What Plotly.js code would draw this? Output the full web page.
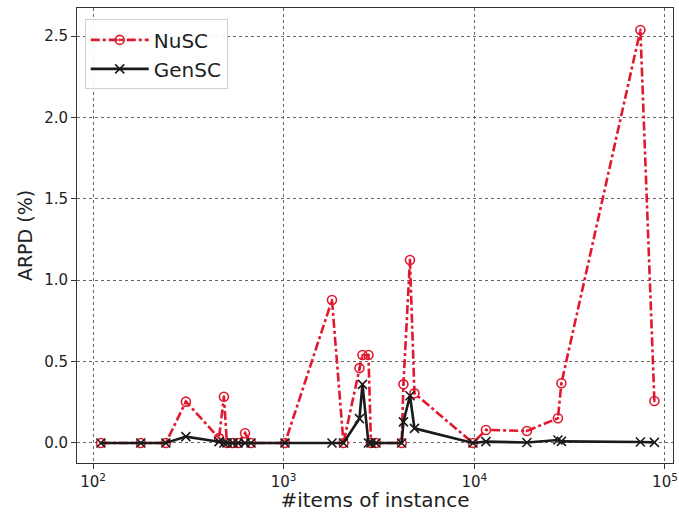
<!DOCTYPE html>
<html>
<head>
<meta charset="utf-8">
<script src="https://cdn.plot.ly/plotly-3.0.1.min.js"></script>
<style>html,body{margin:0;padding:0;background:#fff;}#chart{width:679px;height:512px;}</style>
</head>
<body>
<div id="chart"></div>
<script>
// Instance sizes (#items)
const items = [110, 178, 241, 307, 458, 486, 504, 542, 576, 627, 674, 1016, 1792, 2059, 2497, 2590, 2784, 2870, 3048, 4157, 4248, 4596, 4852, 9833, 11503, 18870, 27440, 28620, 74300, 87990];
// ARPD (%) values
const nuscValues = [0, 0, 0, 0.254, 0.03, 0.284, 0, 0, 0, 0.06, 0, 0, 0.878, 0, 0.46, 0.54, 0.54, 0, 0, 0, 0.36, 1.124, 0.305, 0, 0.08, 0.074, 0.152, 0.367, 2.537, 0.258];
const genscValues = [0, 0, 0, 0.039, 0.008, 0, 0, 0, 0, 0, 0, 0, 0, 0, 0.15, 0.36, 0, 0, 0, 0, 0.13, 0.29, 0.09, 0, 0.008, 0.003, 0.018, 0.01, 0.006, 0.004];
const yTicks = [0, 0.5, 1.0, 1.5, 2.0, 2.5];
const xTicks = [100, 1000, 10000, 100000];
const xTickText = ['10<sup>2</sup>', '10<sup>3</sup>', '10<sup>4</sup>', '10<sup>5</sup>'];

const traces = [
  {
    x: items, y: nuscValues, name: 'NuSC', type: 'scatter', mode: 'lines+markers',
    line: {color: '#e0192f', width: 2.6, dash: 'dashdot'},
    marker: {symbol: 'circle-open-dot', size: 9, color: '#e0192f', line: {width: 1.6, color: '#e0192f'}}
  },
  {
    x: items, y: genscValues, name: 'GenSC', type: 'scatter', mode: 'lines+markers',
    line: {color: '#1a1a1a', width: 2.6},
    marker: {symbol: 'x-thin-open', size: 9, color: '#1a1a1a', line: {width: 1.6, color: '#1a1a1a'}}
  }
];

const axisCommon = {
  showline: true, linecolor: '#333', linewidth: 1, mirror: true,
  ticks: 'outside', ticklen: 5, tickwidth: 1, tickcolor: '#333',
  showgrid: true, gridcolor: '#666', gridwidth: 1, griddash: 'dot',
  zeroline: false, ticklabeloverflow: 'allow',
  tickfont: {family: 'DejaVu Sans', size: 15, color: '#222'}
};

const layout = {
  width: 679, height: 512,
  margin: {l: 77, r: 6, t: 8, b: 49},
  paper_bgcolor: '#fff', plot_bgcolor: '#fff',
  showlegend: true,
  legend: {
    x: 0.013, y: 0.975, xanchor: 'left', yanchor: 'top',
    itemwidth: 58,
    bordercolor: '#d0d0d0', borderwidth: 1, bgcolor: 'rgba(255,255,255,0.9)',
    font: {family: 'DejaVu Sans', size: 20, color: '#222'}
  },
  xaxis: Object.assign({}, axisCommon, {
    type: 'log', range: [1.916, 5.042],
    tickvals: xTicks, ticktext: xTickText,
    title: {text: '#items of instance', font: {family: 'DejaVu Sans', size: 20, color: '#222'}, standoff: 2}
  }),
  yaxis: Object.assign({}, axisCommon, {
    range: [-0.123, 2.672],
    tickvals: yTicks, tickformat: '.1f',
    title: {text: 'ARPD (%)', font: {family: 'DejaVu Sans', size: 19, color: '#222'}, standoff: 6}
  })
};

Plotly.newPlot('chart', traces, layout, {displayModeBar: false, staticPlot: true});
</script>
</body>
</html>
